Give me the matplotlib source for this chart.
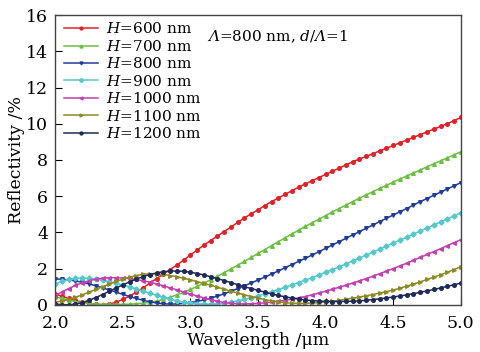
import numpy as np
import matplotlib
matplotlib.use("Agg")
import matplotlib.pyplot as plt

plt.rcParams['font.family'] = 'DejaVu Serif'
plt.rcParams['mathtext.fontset'] = 'custom'
plt.rcParams['mathtext.rm'] = 'DejaVu Serif'
plt.rcParams['mathtext.it'] = 'DejaVu Serif:italic'
# italic capital Greek (mathtext keeps Greek capitals upright in \mathit)
plt.rcParams['mathtext.sf'] = 'DejaVu Serif:italic'

# wavelength grid, um (step 0.05)
WAVELENGTH = np.linspace(2.0, 5.0, 61)

R_600 = [0.6, 0.47, 0.35, 0.24, 0.15, 0.08, 0.03, 0.01, 0.05, 0.14,
         0.3, 0.48, 0.7, 0.94, 1.2, 1.45, 1.7, 1.95, 2.2, 2.47,
         2.75, 3.03, 3.3, 3.55, 3.8, 4.05, 4.3, 4.55, 4.8, 5.03,
         5.25, 5.48, 5.7, 5.9, 6.1, 6.3, 6.5, 6.68, 6.85, 7.03,
         7.2, 7.38, 7.55, 7.73, 7.9, 8.05, 8.2, 8.35, 8.5, 8.65,
         8.8, 8.95, 9.1, 9.25, 9.4, 9.55, 9.7, 9.85, 10.0, 10.17,
         10.35]
R_700 = [0.45, 0.35, 0.26, 0.18, 0.12, 0.07, 0.04, 0.02, 0.02, 0.02,
         0.03, 0.04, 0.06, 0.09, 0.14, 0.21, 0.3, 0.42, 0.55, 0.69,
         0.85, 1.02, 1.2, 1.39, 1.58, 1.78, 1.98, 2.19, 2.4, 2.62,
         2.84, 3.05, 3.27, 3.48, 3.7, 3.91, 4.12, 4.33, 4.53, 4.73,
         4.93, 5.13, 5.32, 5.51, 5.7, 5.89, 6.07, 6.25, 6.43, 6.6,
         6.78, 6.95, 7.12, 7.28, 7.45, 7.62, 7.79, 7.95, 8.12, 8.28,
         8.45]
R_800 = [1.42, 1.42, 1.38, 1.32, 1.25, 1.16, 1.05, 0.94, 0.82, 0.7,
         0.58, 0.46, 0.35, 0.25, 0.17, 0.1, 0.06, 0.04, 0.05, 0.08,
         0.12, 0.19, 0.27, 0.37, 0.48, 0.61, 0.75, 0.9, 1.05, 1.21,
         1.37, 1.53, 1.7, 1.87, 2.05, 2.22, 2.4, 2.57, 2.75, 2.93,
         3.12, 3.3, 3.49, 3.67, 3.86, 4.04, 4.23, 4.41, 4.6, 4.78,
         4.96, 5.14, 5.32, 5.51, 5.7, 5.87, 6.05, 6.22, 6.4, 6.57,
         6.75]
R_900 = [1.15, 1.3, 1.4, 1.46, 1.48, 1.46, 1.42, 1.36, 1.28, 1.19,
         1.1, 0.99, 0.88, 0.76, 0.65, 0.53, 0.42, 0.32, 0.22, 0.15,
         0.1, 0.06, 0.04, 0.04, 0.06, 0.1, 0.15, 0.22, 0.3, 0.4,
         0.5, 0.61, 0.72, 0.84, 0.97, 1.1, 1.23, 1.36, 1.5, 1.65,
         1.8, 1.95, 2.1, 2.26, 2.42, 2.58, 2.75, 2.91, 3.08, 3.24,
         3.41, 3.57, 3.74, 3.91, 4.08, 4.24, 4.41, 4.58, 4.75, 4.91,
         5.08]
R_1000 = [0.5, 0.72, 0.9, 1.07, 1.22, 1.33, 1.42, 1.47, 1.5, 1.5,
          1.48, 1.45, 1.4, 1.33, 1.25, 1.16, 1.05, 0.94, 0.83, 0.71,
          0.6, 0.49, 0.38, 0.29, 0.2, 0.13, 0.08, 0.06, 0.05, 0.06,
          0.08, 0.11, 0.15, 0.2, 0.25, 0.31, 0.38, 0.46, 0.55, 0.65,
          0.75, 0.86, 0.97, 1.08, 1.2, 1.32, 1.45, 1.58, 1.72, 1.86,
          2.0, 2.15, 2.3, 2.46, 2.62, 2.78, 2.94, 3.1, 3.27, 3.43,
          3.6]
R_1100 = [0.15, 0.21, 0.3, 0.42, 0.55, 0.7, 0.85, 1.0, 1.15, 1.29,
          1.42, 1.53, 1.62, 1.68, 1.72, 1.72, 1.68, 1.62, 1.55, 1.47,
          1.38, 1.28, 1.18, 1.08, 0.97, 0.86, 0.75, 0.65, 0.55, 0.46,
          0.37, 0.29, 0.22, 0.17, 0.12, 0.09, 0.08, 0.08, 0.1, 0.12,
          0.16, 0.2, 0.25, 0.31, 0.37, 0.43, 0.5, 0.57, 0.65, 0.73,
          0.82, 0.92, 1.03, 1.15, 1.27, 1.4, 1.53, 1.66, 1.8, 1.95,
          2.1]
R_1200 = [0.05, 0.01, 0.0, 0.04, 0.12, 0.25, 0.4, 0.57, 0.75, 0.93,
          1.1, 1.27, 1.42, 1.56, 1.67, 1.76, 1.83, 1.86, 1.87, 1.85,
          1.8, 1.73, 1.65, 1.55, 1.45, 1.34, 1.23, 1.11, 1.0, 0.9,
          0.8, 0.7, 0.6, 0.52, 0.44, 0.38, 0.32, 0.27, 0.23, 0.21,
          0.19, 0.18, 0.18, 0.19, 0.2, 0.22, 0.25, 0.29, 0.33, 0.38,
          0.43, 0.49, 0.55, 0.62, 0.69, 0.77, 0.85, 0.93, 1.02, 1.11,
          1.2]

HEIGHTS = [600, 700, 800, 900, 1000, 1100, 1200]
SERIES = [R_600, R_700, R_800, R_900, R_1000, R_1100, R_1200]
COLORS = ['#e02228', '#6dbd45', '#213c96', '#55c8cc', '#c43fb0', '#8c8a22', '#1f2a58']
MARKERS = ['o', '^', 'v', 'D', '<', '>', 'o']

fig = plt.figure(figsize=(4.8, 3.52), dpi=100)
ax = fig.add_axes([0.115, 0.134, 0.845, 0.823])

for h, r, c, m in zip(HEIGHTS, SERIES, COLORS, MARKERS):
    ax.plot(WAVELENGTH, r, color=c, marker=m, markersize=2.6, linewidth=1.1,
            label=r'$H$=%d nm' % h)

ax.set_xlim(2.0, 5.0)
ax.set_ylim(0, 16)
ax.set_xticks([2.0, 2.5, 3.0, 3.5, 4.0, 4.5, 5.0])
ax.set_yticks([0, 2, 4, 6, 8, 10, 12, 14, 16])
ax.tick_params(direction='in', length=5, labelsize=12.5, top=False, right=False)
ax.tick_params(axis='x', pad=7)
ax.tick_params(axis='y', pad=5)
for s in ax.spines.values():
    s.set_color('#444444')
    s.set_linewidth(1.0)

ax.set_xlabel(r'Wavelength /μm', fontsize=12.5, labelpad=0)
ax.set_ylabel(r'Reflectivity /%', fontsize=12.5, labelpad=1)

ax.text(0.375, 0.925, r'$\mathsf{Λ}$=800 nm, $d$/$\mathsf{Λ}$=1', transform=ax.transAxes,
        fontsize=11, va='center')

ax.legend(loc='upper left', frameon=False, fontsize=11, handlelength=2.2,
          labelspacing=0.16, borderaxespad=0.2, handletextpad=0.5,
          markerscale=0.8, bbox_to_anchor=(0.0, 1.01))

fig.savefig('out.png', dpi=100)
